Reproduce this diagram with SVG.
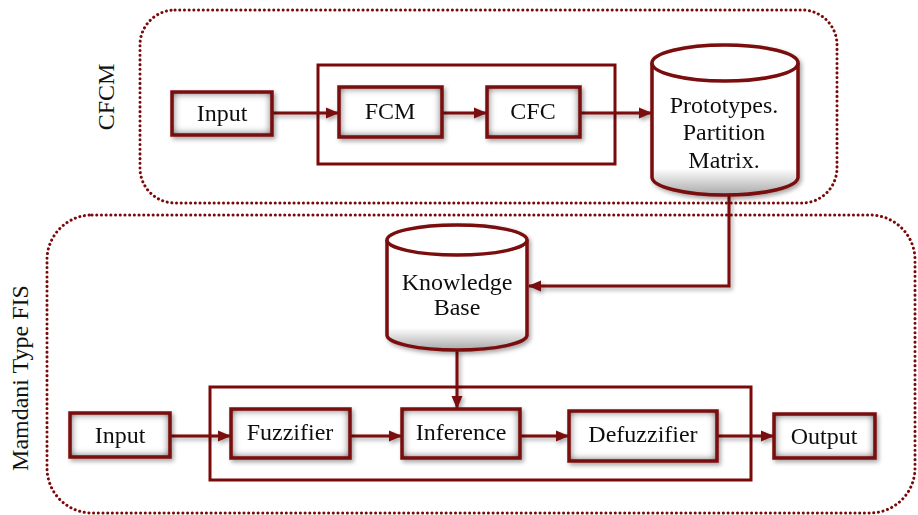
<svg xmlns="http://www.w3.org/2000/svg" width="918" height="515" viewBox="0 0 918 515">
<style>
.frame{fill:none;stroke:#7a0a0a;stroke-width:3;stroke-dasharray:0.1 4.6;stroke-linecap:round}
.inner{fill:none;stroke:#7a0a0a;stroke-width:3}
.boxfill{fill:#ffffff;filter:url(#innerShade)}
.boxline{fill:none;stroke:#7a0a0a;stroke-width:3.5}
.cyl{fill:url(#cylGrad);stroke:#7a0a0a;stroke-width:3.5}
.cyltop{fill:#ffffff;stroke:#7a0a0a;stroke-width:3.5}
.conn{fill:none;stroke:#7a0a0a;stroke-width:3}
text{font-family:"Liberation Serif","Times New Roman",serif;font-size:24px;fill:#111;text-anchor:middle}
</style>
<defs>
<filter id="innerShade" x="-20%" y="-40%" width="140%" height="180%" color-interpolation-filters="sRGB">
<feFlood flood-color="#333333" result="f"/>
<feComposite in="f" in2="SourceAlpha" operator="out" result="o"/>
<feGaussianBlur in="o" stdDeviation="4.5" result="b"/>
<feComposite in="b" in2="SourceAlpha" operator="in" result="s"/>
<feMerge><feMergeNode in="SourceGraphic"/><feMergeNode in="s"/></feMerge>
</filter>
<filter id="drop" x="-10%" y="-10%" width="130%" height="130%">
<feDropShadow dx="2" dy="2.5" stdDeviation="2" flood-color="#000" flood-opacity="0.35"/>
</filter>
<linearGradient id="cylGrad" x1="0" y1="0" x2="0" y2="1">
<stop offset="0" stop-color="#ffffff"/>
<stop offset="0.8" stop-color="#ffffff"/>
<stop offset="1" stop-color="#a8a8a8"/>
</linearGradient>
<marker id="arr" markerUnits="userSpaceOnUse" markerWidth="13" markerHeight="13" viewBox="0 0 13 13" refX="12" refY="6.5" orient="auto">
<path d="M0,1 L13,6.5 L0,12 Z" fill="#7a0a0a"/>
</marker>
</defs>
<rect width="918" height="515" fill="#ffffff"/>

<g id="frame-cfcm">
<rect class="frame" x="140" y="10" width="697" height="193" rx="35"/>
<text transform="translate(114,97) rotate(-90)">CFCM</text>
</g>
<g id="frame-fis">
<rect class="frame" x="47" y="215" width="868" height="298" rx="45"/>
<text transform="translate(28,378) rotate(-90)">Mamdani Type FIS</text>
</g>

<g id="group-top"><rect class="inner" x="318" y="65" width="297" height="99"/></g>
<g id="group-bottom"><rect class="inner" x="210" y="387" width="541" height="93"/></g>

<g id="connectors" filter="url(#drop)">
<line class="conn" x1="272" y1="113" x2="338" y2="113" marker-end="url(#arr)"/>
<line class="conn" x1="442" y1="113" x2="486" y2="113" marker-end="url(#arr)"/>
<line class="conn" x1="580" y1="113" x2="651" y2="113" marker-end="url(#arr)"/>
<polyline class="conn" points="729,195 729,286 529,286" marker-end="url(#arr)"/>
<line class="conn" x1="457" y1="350" x2="457" y2="408" marker-end="url(#arr)"/>
<line class="conn" x1="170" y1="436" x2="230" y2="436" marker-end="url(#arr)"/>
<line class="conn" x1="350" y1="436" x2="401" y2="436" marker-end="url(#arr)"/>
<line class="conn" x1="520" y1="436" x2="568" y2="436" marker-end="url(#arr)"/>
<line class="conn" x1="717" y1="436" x2="773" y2="436" marker-end="url(#arr)"/>
</g>

<g id="input-top" filter="url(#drop)">
<rect class="boxfill" x="172" y="92" width="100" height="43"/>
<rect class="boxline" x="172" y="92" width="100" height="43"/>
<text x="222" y="121">Input</text>
</g>
<g id="fcm" filter="url(#drop)">
<rect class="boxfill" x="339" y="87" width="103" height="50"/>
<rect class="boxline" x="339" y="87" width="103" height="50"/>
<text x="390" y="119">FCM</text>
</g>
<g id="cfc" filter="url(#drop)">
<rect class="boxfill" x="487" y="87" width="93" height="50"/>
<rect class="boxline" x="487" y="87" width="93" height="50"/>
<text x="533" y="119">CFC</text>
</g>
<g id="prototypes" filter="url(#drop)">
<path class="cyl" d="M652,63 L652,177 A73,18 0 0 0 798,177 L798,63"/>
<ellipse class="cyltop" cx="725" cy="63" rx="73" ry="18"/>
<text x="724" y="113">Prototypes.</text>
<text x="724" y="140">Partition</text>
<text x="724" y="168">Matrix.</text>
</g>
<g id="knowledge-base" filter="url(#drop)">
<path class="cyl" d="M387,240 L387,335 A70,15 0 0 0 527,335 L527,240"/>
<ellipse class="cyltop" cx="457" cy="240" rx="70" ry="15"/>
<text x="457" y="290">Knowledge</text>
<text x="457" y="315">Base</text>
</g>
<g id="input-bottom" filter="url(#drop)">
<rect class="boxfill" x="70" y="413" width="100" height="44"/>
<rect class="boxline" x="70" y="413" width="100" height="44"/>
<text x="120" y="443">Input</text>
</g>
<g id="fuzzifier" filter="url(#drop)">
<rect class="boxfill" x="231" y="409" width="119" height="49"/>
<rect class="boxline" x="231" y="409" width="119" height="49"/>
<text x="290" y="440">Fuzzifier</text>
</g>
<g id="inference" filter="url(#drop)">
<rect class="boxfill" x="402" y="409" width="118" height="49"/>
<rect class="boxline" x="402" y="409" width="118" height="49"/>
<text x="461" y="440">Inference</text>
</g>
<g id="defuzzifier" filter="url(#drop)">
<rect class="boxfill" x="569" y="411" width="148" height="50"/>
<rect class="boxline" x="569" y="411" width="148" height="50"/>
<text x="643" y="442">Defuzzifier</text>
</g>
<g id="output" filter="url(#drop)">
<rect class="boxfill" x="774" y="414" width="101" height="44"/>
<rect class="boxline" x="774" y="414" width="101" height="44"/>
<text x="824" y="444">Output</text>
</g>
</svg>
